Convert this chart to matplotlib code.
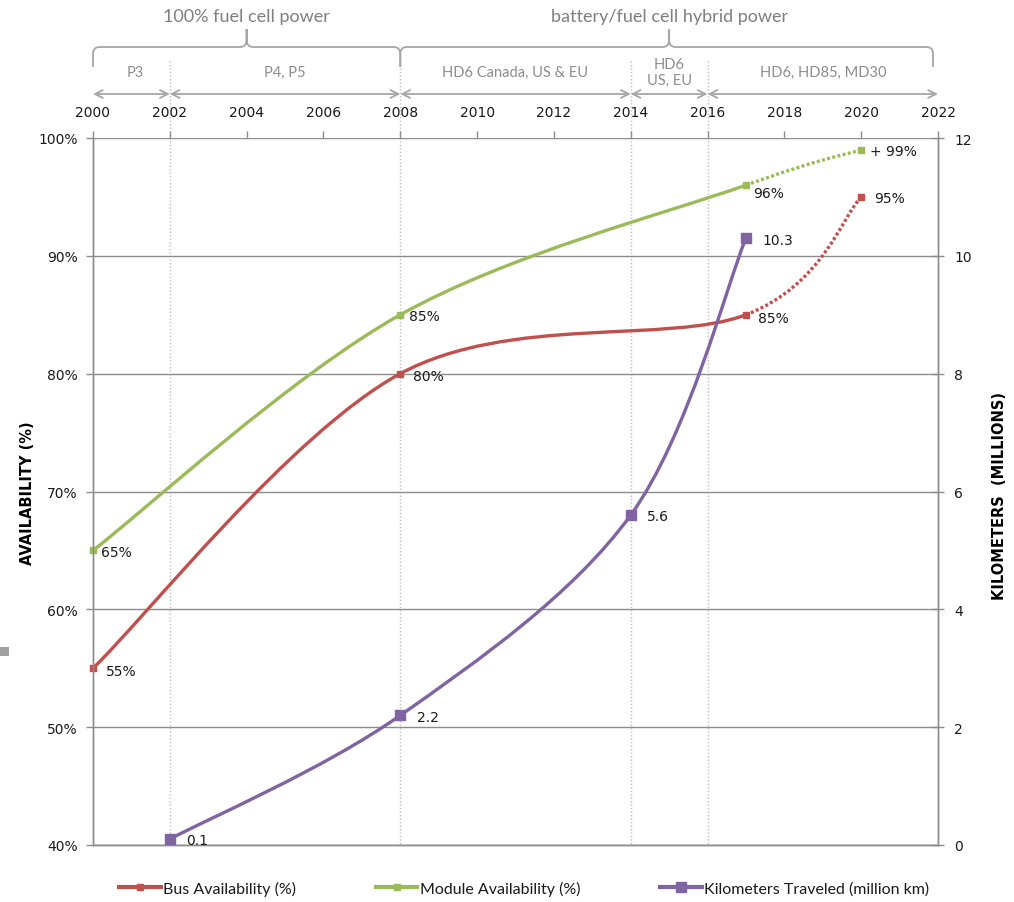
import matplotlib
matplotlib.use("Agg")
import matplotlib.pyplot as plt
import matplotlib.transforms as mtransforms
from matplotlib.path import Path
from matplotlib.patches import PathPatch, Rectangle
from matplotlib.lines import Line2D

# availability data (percent) and distance (million km)
bus_years = [2000, 2008, 2017, 2020]
bus_avail = [55, 80, 85, 95]
bus_labels = ["55%", "80%", "85%", "95%"]

module_years = [2000, 2008, 2017, 2020]
module_avail = [65, 85, 96, 99]
module_labels = ["65%", "85%", "96%", "+ 99%"]

km_years = [2002, 2008, 2014, 2017]
km_travel = [0.1, 2.2, 5.6, 10.3]
km_labels = ["0.1", "2.2", "5.6", "10.3"]

year_ticks = list(range(2000, 2023, 2))
avail_ticks = [40, 50, 60, 70, 80, 90, 100]
km_ticks = [0, 2, 4, 6, 8, 10, 12]

phase_bounds = [2002, 2008, 2014, 2016]
phase_spans = [(2000, 2002), (2002, 2008), (2008, 2014), (2014, 2016), (2016, 2022)]
phase_names = ["P3", "P4, P5", "HD6 Canada, US & EU", "HD6\nUS, EU", "HD6, HD85, MD30"]
phase_centers = [2001.1, 2005, 2011, 2015, 2019]

RED = "#C0504D"
GREEN = "#9BBB59"
PURPLE = "#8064A2"
GRID = "#8C8C8C"
TXT = "#1A1A1A"

W, H = 1014, 903
fig = plt.figure(figsize=(W / 100, H / 100), dpi=100)
ax = fig.add_axes([93 / W, (H - 846) / H, 845 / W, 707 / H])
ax2 = ax.twinx()


def smooth_segments(xs, ys):
    # cubic bezier pieces through the points (catmull-rom style tangents)
    n = len(xs)
    pts = list(zip(xs, ys))
    segs = []
    for i in range(n - 1):
        p0 = pts[i - 1] if i > 0 else pts[i]
        p1, p2 = pts[i], pts[i + 1]
        p3 = pts[i + 2] if i + 2 < n else pts[i + 1]
        c1 = (p1[0] + (p2[0] - p0[0]) / 6, p1[1] + (p2[1] - p0[1]) / 6)
        c2 = (p2[0] - (p3[0] - p1[0]) / 6, p2[1] - (p3[1] - p1[1]) / 6)
        segs.append([p1, c1, c2, p2])
    return segs


def draw_smooth(axis, xs, ys, color, n_solid, lw=2.4):
    segs = smooth_segments(xs, ys)
    for k, seg in enumerate(segs):
        path = Path(seg, [Path.MOVETO, Path.CURVE4, Path.CURVE4, Path.CURVE4])
        style = "-" if k < n_solid else (0, (0.9, 0.7))
        axis.add_patch(PathPatch(path, fill=False, edgecolor=color, lw=lw,
                                 linestyle=style, capstyle="butt", zorder=3))


draw_smooth(ax, bus_years, bus_avail, RED, 2)
draw_smooth(ax, module_years, module_avail, GREEN, 2)
draw_smooth(ax2, km_years, km_travel, PURPLE, 3)

ax.plot(bus_years, bus_avail, ls="none", marker="s", ms=5, color=RED, zorder=4, clip_on=False)
ax.plot(module_years, module_avail, ls="none", marker="s", ms=5, color=GREEN, zorder=4, clip_on=False)
ax2.plot(km_years, km_travel, ls="none", marker="s", ms=7, color=PURPLE, zorder=4, clip_on=False)

lab_kw = dict(textcoords="offset points", fontsize=10, color=TXT, va="center", ha="left")
for x, y, s in zip(bus_years, bus_avail, bus_labels):
    off = (9, -2) if x != 2020 else (9, -1)
    ax.annotate(s, (x, y), xytext=off, **lab_kw)
for x, y, s in zip(module_years, module_avail, module_labels):
    off = (6, -1)
    if x == 2017:
        off = (5, -6)
    ax.annotate(s, (x, y), xytext=off, **lab_kw)
for x, y, s in zip(km_years, km_travel, km_labels):
    off = (12, -1)
    ax2.annotate(s, (x, y), xytext=off, **lab_kw)

ax.set_xlim(2000, 2022)
ax.set_ylim(40, 100)
ax2.set_ylim(0, 12)
ax.set_yticks(avail_ticks)
ax.set_yticklabels([f"{v}%" for v in avail_ticks])
ax2.set_yticks(km_ticks)
ax.set_xticks(year_ticks)
ax.xaxis.tick_top()
ax.tick_params(axis="x", top=True, bottom=False, length=5, width=1, color=GRID,
               labelsize=10, labelcolor=TXT, pad=9)
ax.tick_params(axis="y", length=5, width=1, color=GRID, labelsize=10, labelcolor=TXT, pad=6)
ax2.tick_params(axis="y", direction="inout", length=9, width=1, color=GRID,
                labelsize=10, labelcolor=TXT, pad=7)
ax.grid(axis="y", color=GRID, lw=1)
for a in (ax, ax2):
    for sp in a.spines.values():
        sp.set_color(GRID)
        sp.set_linewidth(1)
    a.spines["top"].set_visible(False)

# header band above the plot: phases, arrows and braces
trans = mtransforms.blended_transform_factory(ax.transData, fig.transFigure)


def fy(p):
    return 1 - p / H


for b in phase_bounds:
    ax.plot([b, b], [fy(62), fy(846)], transform=trans, color="#BFBFBF", lw=1,
            ls=(0, (1, 1.5)), clip_on=False, zorder=1)

for (a, b) in phase_spans:
    ax.annotate("", xy=(b, fy(95)), xytext=(a, fy(95)), xycoords=trans, textcoords=trans,
                arrowprops=dict(arrowstyle="<->", color="#A6A6A6", lw=1.3,
                                shrinkA=0, shrinkB=0, mutation_scale=14))

for c, name in zip(phase_centers, phase_names):
    ax.text(c, fy(73), name, transform=trans, ha="center", va="center", fontsize=10.5,
            color="#8C8C8C", family="Lato", linespacing=1.25)


def brace(x0, x1, xm, y_line=48, y_end=68, y_tip=30):
    rx = 0.17
    ry = 7 / H
    yl, ye, yt = fy(y_line), fy(y_end), fy(y_tip)
    verts = [(x0, ye), (x0, yl - ry), (x0, yl), (x0 + rx, yl),
             (xm - rx, yl), (xm, yl), (xm, yl + ry), (xm, yt),
             (xm, yl + ry), (xm, yl), (xm + rx, yl),
             (x1 - rx, yl), (x1, yl), (x1, yl - ry), (x1, ye)]
    codes = [Path.MOVETO, Path.LINETO, Path.CURVE3, Path.CURVE3,
             Path.LINETO, Path.CURVE3, Path.CURVE3, Path.LINETO,
             Path.LINETO, Path.CURVE3, Path.CURVE3,
             Path.LINETO, Path.CURVE3, Path.CURVE3, Path.LINETO]
    p = PathPatch(Path(verts, codes), transform=trans, fill=False,
                  edgecolor="#A6A6A6", lw=1.3, clip_on=False)
    fig.add_artist(p)


brace(2000, 2008, 2004)
brace(2008, 2021.87, 2015)

ax.text(2004, fy(17), "100% fuel cell power", transform=trans, ha="center", va="center",
        fontsize=13, color="#7F7F7F", family="Lato")
ax.text(2015, fy(17), "battery/fuel cell hybrid power", transform=trans, ha="center",
        va="center", fontsize=13, color="#7F7F7F", family="Lato")

# axis titles
fig.text(28 / W, fy(493), "AVAILABILITY (%)", rotation=90, ha="center", va="center",
         fontsize=10.5, fontweight="bold", color="black",
         family=["Liberation Sans Narrow", "DejaVu Sans"])
fig.text(999 / W, fy(496), "KILOMETERS  (MILLIONS)", rotation=90, ha="center", va="center",
         fontsize=10.5, fontweight="bold", color="black",
         family=["Liberation Sans Narrow", "DejaVu Sans"])

# small grey marker at the left edge
fig.add_artist(Rectangle((0, fy(657)), 9 / W, 9 / H, transform=fig.transFigure,
                         color="#A0A0A0", lw=0))

handles = [
    Line2D([], [], color=RED, lw=3, marker="s", ms=5),
    Line2D([], [], color=GREEN, lw=3, marker="s", ms=5),
    Line2D([], [], color=PURPLE, lw=3, marker="s", ms=7),
]
fig.legend(handles, ["Bus Availability (%)", "Module Availability (%)",
                     "Kilometers Traveled (million km)"],
           loc="center", bbox_to_anchor=(0.517, fy(889)), ncol=3, frameon=False,
           prop={"family": "Lato", "size": 11.5}, handlelength=2.6, handletextpad=0.15,
           columnspacing=5.0, labelcolor=TXT)

fig.savefig("out.png", dpi=100)
